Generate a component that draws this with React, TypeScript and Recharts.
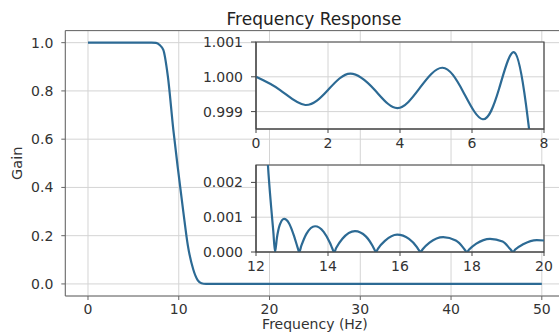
import { LineChart, Line, XAxis, YAxis, CartesianGrid, ReferenceLine, ReferenceArea } from 'recharts'

// overall response
const freqMain = [0, 5, 7, 7.5, 7.9, 8.3, 8.8, 9.4, 9.9, 10.5, 11.0, 11.6, 12.1, 12.5, 13, 20, 30, 40, 50]
const gainMain = [1, 1, 1, 0.999, 0.99, 0.97, 0.86, 0.64, 0.48, 0.3, 0.16, 0.06, 0.015, 0.003, 0, 0, 0, 0, 0]

// passband ripple (upper inset)
const freqPass = [0, 0.67, 1.37, 2.0, 2.62, 3.3, 3.93, 4.55, 5.18, 5.75, 6.3, 6.75, 7.18, 7.5, 7.7]
const gainPass = [1.0, 0.99962, 0.99919, 0.99962, 1.00009, 0.99962, 0.9991, 0.99968, 1.00026, 0.99958, 0.99878, 0.99965, 1.0007, 0.9992, 0.9975]

// stopband lobes (lower inset)
const freqStop = [12.2, 12.32, 12.42, 12.48, 12.53, 12.58, 12.66, 12.78, 12.92, 13.06, 13.15, 13.2, 13.26, 13.4, 13.64, 13.88, 14.06, 14.12, 14.17, 14.23, 14.4, 14.75, 15.05, 15.24, 15.29, 15.33, 15.39, 15.58, 15.92, 16.25, 16.47, 16.52, 16.57, 16.63, 16.82, 17.2, 17.55, 17.76, 17.81, 17.86, 17.92, 18.12, 18.5, 18.85, 19.04, 19.09, 19.14, 19.2, 19.42, 19.8, 20]
const gainStop = [0.0055, 0.0027, 0.0013, 0.0006, 0, 0.0004, 0.00078, 0.00095, 0.00082, 0.00045, 0.00015, 0, 0.00018, 0.00052, 0.00074, 0.00058, 0.00025, 0.0001, 0, 0.00012, 0.00038, 0.0006, 0.00045, 0.00017, 0.00007, 0, 0.0001, 0.00032, 0.0005, 0.00038, 0.00014, 0.00006, 0, 0.00008, 0.00027, 0.00043, 0.00033, 0.00012, 0.00005, 0, 0.00007, 0.00024, 0.00038, 0.0003, 0.00011, 0.00005, 0, 0.00007, 0.00022, 0.00034, 0.00033]

const mainTicksX = [0, 10, 20, 30, 40, 50]
const mainTicksY = [0, 0.2, 0.4, 0.6, 0.8, 1.0]
const passTicksX = [0, 2, 4, 6, 8]
const passTicksY = [0.999, 1.0, 1.001]
const stopTicksX = [12, 14, 16, 18, 20]
const stopTicksY = [0, 0.001, 0.002]

const FONT = '"DejaVu Sans", sans-serif'
const LINE = '#2c6a94'
const GRID = '#d4d4d4'
const TEXT = '#333'

const mainData = freqMain.map((f, i) => ({ f, g: gainMain[i] }))
const passData = freqPass.map((f, i) => ({ f, g: gainPass[i] }))
const stopData = freqStop.map((f, i) => ({ f, g: gainStop[i] }))

const tickStyle = { fill: TEXT, fontSize: 14, fontFamily: FONT }

const layer: React.CSSProperties = { position: 'absolute', left: 0, top: 0 }

function Inset({ data, curve, top, bottom, xDomain, yDomain, xTicks, yTicks }: any) {
  return (
    <div style={layer}>
      <LineChart width={570} height={333} margin={{ top, right: 26, bottom, left: 190 }}>
        <CartesianGrid stroke={GRID} fill="#fff" fillOpacity={1} />
        <XAxis
          type="number"
          dataKey="f"
          domain={xDomain}
          ticks={xTicks}
          allowDataOverflow
          height={24}
          interval={0}
          tick={tickStyle}
          tickSize={4}
          tickMargin={5}
          axisLine={{ stroke: '#444' }}
          tickLine={{ stroke: '#444' }}
        />
        <YAxis
          type="number"
          domain={yDomain}
          ticks={yTicks}
          allowDataOverflow
          width={66}
          interval={0}
          tick={tickStyle}
          tickSize={5}
          tickMargin={8}
          tickFormatter={(v: number) => v.toFixed(3)}
          axisLine={{ stroke: '#444' }}
          tickLine={{ stroke: '#444' }}
        />
        <ReferenceArea x1={xDomain[0]} x2={xDomain[1]} y1={yDomain[0]} y2={yDomain[1]} fill="none" stroke="#444" strokeWidth={1.2} />
        <Line data={data} dataKey="g" type={curve} stroke={LINE} strokeWidth={2.2} dot={false} isAnimationActive={false} />
      </LineChart>
    </div>
  )
}

export default function App() {
  return (
    <div style={{ ...layer, width: 559, height: 333, overflow: 'hidden', background: '#fff' }}>
      <div style={layer}>
        <LineChart width={570} height={333} margin={{ top: 30.6, right: 5.5, bottom: 0, left: 0 }}>
          <CartesianGrid stroke={GRID} />
          <XAxis
            type="number"
            dataKey="f"
            domain={[-2.5, 52.5]}
            ticks={mainTicksX}
            height={37}
            interval={0}
            tick={tickStyle}
            tickSize={4}
            tickMargin={4}
            axisLine={{ stroke: '#666' }}
            tickLine={{ stroke: '#666' }}
            label={{ value: 'Frequency (Hz)', position: 'insideBottom', offset: 4, fill: TEXT, fontSize: 14, fontFamily: FONT }}
          />
          <YAxis
            type="number"
            domain={[-0.05, 1.05]}
            ticks={mainTicksY}
            width={65.3}
            interval={0}
            tick={tickStyle}
            tickSize={4}
            tickMargin={8}
            tickFormatter={(v: number) => v.toFixed(1)}
            axisLine={{ stroke: '#666' }}
            tickLine={{ stroke: '#666' }}
            label={{
              value: 'Gain',
              content: (p: any) => (
                <text
                  x={p.viewBox.x + 22}
                  y={p.viewBox.y + p.viewBox.height / 2}
                  transform={`rotate(-90 ${p.viewBox.x + 22} ${p.viewBox.y + p.viewBox.height / 2})`}
                  textAnchor="middle"
                  fill={TEXT}
                  fontSize={14.5}
                  fontFamily={FONT}
                >
                  Gain
                </text>
              ),
            }}
          />
          <ReferenceLine y={1.05} stroke="#666" />
          <Line data={mainData} dataKey="g" type="monotone" stroke={LINE} strokeWidth={2.2} dot={false} isAnimationActive={false} />
        </LineChart>
      </div>
      <Inset data={passData} curve="natural" top={42} bottom={180} xDomain={[0, 8]} yDomain={[0.9985, 1.001]} xTicks={passTicksX} yTicks={passTicksY} />
      <Inset data={stopData} curve="monotone" top={165} bottom={57} xDomain={[12, 20]} yDomain={[0, 0.0025]} xTicks={stopTicksX} yTicks={stopTicksY} />
      <svg style={layer} width={559} height={40}>
        <text x={314} y={25} textAnchor="middle" fill="#222" fontSize={17} fontFamily={FONT}>
          Frequency Response
        </text>
      </svg>
    </div>
  )
}
